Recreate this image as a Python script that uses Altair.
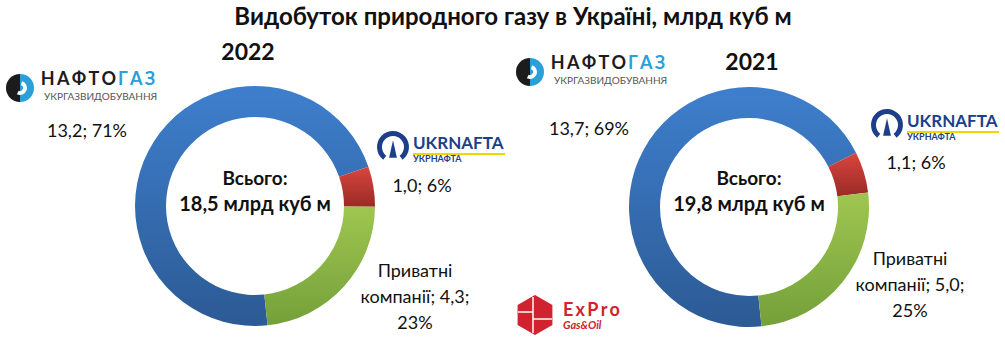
import math
import altair as alt
import pandas as pd

# ---------------- data ----------------
categories = ["Нафтогаз", "Укрнафта", "Приватні компанії"]
years = ["2022", "2021"]
values_2022 = [13.2, 1.0, 4.3]
values_2021 = [13.7, 1.1, 5.0]
pct_2022 = [71, 6, 23]
pct_2021 = [69, 6, 25]

FONT = "Lato"
TXT = "#111111"
START = math.radians(174)

gradients = {
    "Нафтогаз": ("#3e7fcd", "#2c5a94"),
    "Укрнафта": ("#da453e", "#992a26"),
    "Приватні компанії": ("#9fc650", "#74a03a"),
}

rows = []
for yr, vals in zip(years, [values_2022, values_2021]):
    for i, (c, v) in enumerate(zip(categories, vals)):
        rows.append({"year": yr, "cat": c, "value": v, "order": i})
df = pd.DataFrame(rows)
dummy = pd.DataFrame({"a": [0]})


def fmt(v):
    return f"{v:.1f}".replace(".", ",")


def grad(c1, c2):
    return {"gradient": "linear", "x1": 0, "y1": 0, "x2": 0, "y2": 1,
            "stops": [{"offset": 0, "color": c1}, {"offset": 1, "color": c2}]}


def donut(yr, cx, cy):
    layers = []
    for c in categories:
        base = (alt.Chart(df)
                .transform_filter(alt.datum.year == yr)
                .transform_joinaggregate(total="sum(value)")
                .transform_stack(stack="value", groupby=["year"], as_=["v0", "v1"],
                                 sort=[alt.SortField("order", order="ascending")])
                .transform_calculate(f0="datum.v0 / datum.total", f1="datum.v1 / datum.total")
                .transform_filter(alt.datum.cat == c))
        layers.append(base.mark_arc(innerRadius=89, outerRadius=120,
                                    color=grad(*gradients[c])).encode(
            theta=alt.Theta("f0:Q", scale=alt.Scale(domain=[0, 1], range=[START, START + 2 * math.pi])),
            theta2="f1:Q",
            x=alt.value(cx), y=alt.value(cy)))
    return layers


def txt(s, x, y, size=18, weight="normal", color=TXT, align="center", style="normal",
        font=FONT, lh=26):
    return alt.Chart(dummy).mark_text(
        fontSize=size, fontWeight=weight, color=color, align=align, baseline="middle",
        font=font, fontStyle=style, lineHeight=lh).encode(
        x=alt.value(x), y=alt.value(y), text=alt.value(s))


def arcshape(cx, cy, r0, r1, t0, t1, color):
    return alt.Chart(dummy).mark_arc(innerRadius=r0, outerRadius=r1, theta=t0, theta2=t1,
                                     color=color).encode(x=alt.value(cx), y=alt.value(cy))


def naftogaz(dx, dy):
    return [
        arcshape(20 + dx, 88 + dy, 0, 14, math.pi, 2 * math.pi, "#1c1c1c"),
        arcshape(20 + dx, 88 + dy, 0, 14, 0, math.pi, "#2a9fd8"),
        arcshape(20 + dx, 88 + dy, 3, 7, 0.3, 3.6, "#ffffff"),
        txt("Н\u2009А\u2009Ф\u2009Т\u2009О", 116 + dx, 80 + dy, size=18, weight="bold",
            color="#1c1c1c", align="right"),
        txt("Г\u2009А\u2009З", 118 + dx, 80 + dy, size=18, weight="bold",
            color="#2a9fd8", align="left"),
        txt("УКРГАЗВИДОБУВАННЯ", 44 + dx, 97 + dy, size=10, color="#555555", align="left"),
    ]


def ukrnafta(cx, cy):
    navy = "#1d3f8a"
    return [
        arcshape(cx, cy, 11, 16, 3.8, 2 * math.pi + 2.5, navy),
        alt.Chart(dummy).mark_point(shape="M0,-1L0.45,1L-0.45,1Z", filled=True, size=300,
                                    color=navy, opacity=1).encode(
            x=alt.value(cx), y=alt.value(cy + 2)),
        txt("UKRNAFTA", cx + 20, cy - 3, size=17, weight="bold", color=navy, align="left"),
        alt.Chart(dummy).mark_rule(color="#f2d600", strokeWidth=2).encode(
            x=alt.value(cx + 20), x2=alt.value(cx + 112), y=alt.value(cy + 7)),
        txt("УКРНАФТА", cx + 20, cy + 12, size=9, weight="bold", color=navy, align="left"),
    ]


def expro(cx, cy):
    red = "#d1232f"
    return [
        alt.Chart(dummy).mark_point(
            shape="M0,-1L0.87,-0.5L0.87,0.5L0,1L-0.87,0.5L-0.87,-0.5Z",
            filled=True, size=1600, color=red, opacity=1).encode(
            x=alt.value(cx), y=alt.value(cy)),
        alt.Chart(dummy).mark_rule(color="white", strokeWidth=1.5).encode(
            x=alt.value(cx - 2), y=alt.value(cy - 18), y2=alt.value(cy + 18)),
        alt.Chart(dummy).mark_rule(color="white", strokeWidth=1.5).encode(
            x=alt.value(cx - 17), x2=alt.value(cx - 2), y=alt.value(cy - 3)),
        alt.Chart(dummy).mark_rule(color="white", strokeWidth=1.5).encode(
            x=alt.value(cx - 2), x2=alt.value(cx + 17), y=alt.value(cy + 4)),
        txt("E\u2009x\u2009P\u2009r\u2009o", cx + 28, cy - 4, size=18, weight="bold",
            color=red, align="left"),
        txt("Gas&Oil", cx + 28, cy + 11, size=11, weight="bold", color=red, align="left",
            style="italic"),
    ]


def labels(vals, pcts, cx, cy, pos):
    total = sum(vals)
    lay = [
        txt("Всього:", cx, cy - 27, size=19, weight="bold"),
        txt(f"{fmt(total)} млрд куб м", cx, cy - 1, size=20, weight="bold"),
        txt(f"{fmt(vals[0])}; {pcts[0]}%", pos[0][0], pos[0][1]),
        txt(f"{fmt(vals[1])}; {pcts[1]}%", pos[1][0], pos[1][1]),
        txt(["Приватні", f"компанії; {fmt(vals[2])};", f"{pcts[2]}%"], pos[2][0], pos[2][1]),
    ]
    return lay


layers = []
layers += donut("2022", 255, 206)
layers += donut("2021", 749, 207)
layers += labels(values_2022, pct_2022, 255, 206, [(87, 132), (422, 187), (415, 272)])
layers += labels(values_2021, pct_2021, 749, 206, [(589, 130), (916, 164), (910, 260)])
layers += [
    txt("Видобуток природного газу в Україні, млрд куб м", 513, 18, size=24, weight="bold"),
    txt(years[0], 248, 53, size=23, weight="bold"),
    txt(years[1], 752, 63, size=23, weight="bold"),
]
layers += naftogaz(0, 0)
layers += naftogaz(510, -16)
layers += ukrnafta(393, 147)
layers += ukrnafta(887, 125)
layers += expro(535, 315)

chart = alt.layer(*layers).properties(
    width=1005, height=350, autosize="none", padding=0, background="white"
).configure_view(strokeWidth=0)

chart.save("out.html", embed_options={"renderer": "svg", "actions": False})
